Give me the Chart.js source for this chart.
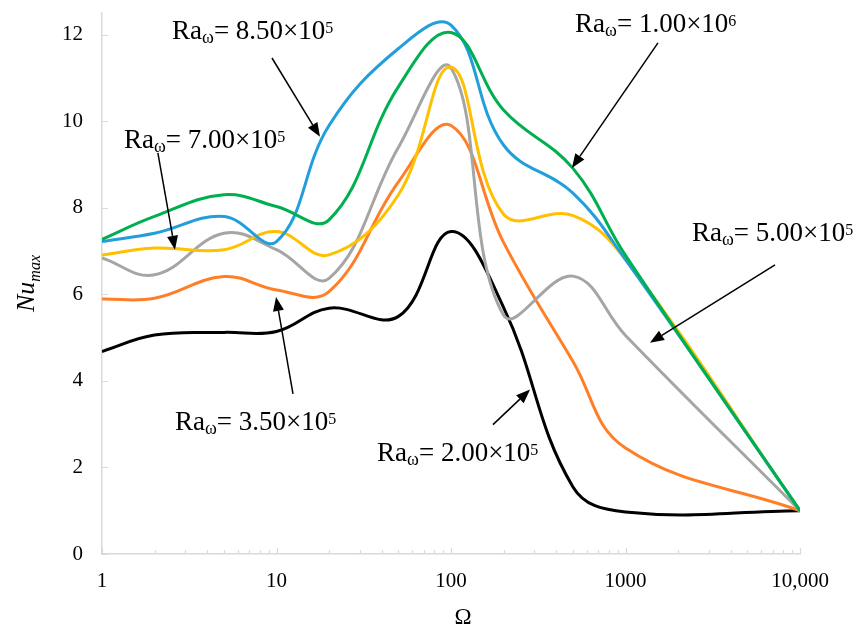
<!DOCTYPE html>
<html>
<head>
<meta charset="utf-8">
<script src="https://cdn.jsdelivr.net/npm/chart.js@4/dist/chart.umd.min.js"></script>
<style>
  html, body { margin: 0; padding: 0; background: #fff; }
  canvas { display: block; }
</style>
</head>
<body>
<canvas id="nuChart" width="857" height="630"></canvas>
<script>
// ── DATA ──────────────────────────────────────────────────────────────────────
const omega     = [1, 2, 5, 10, 20, 50, 100, 200, 500, 1000, 10000];
const nuRa200k  = [4.68, 5.06, 5.12, 5.14, 5.68, 5.49, 7.45, 5.70, 1.55, 0.97, 1.00];
const nuRa350k  = [5.89, 5.91, 6.41, 6.10, 6.06, 8.60, 9.90, 7.20, 4.45, 2.45, 1.00];
const nuRa500k  = [6.84, 6.45, 7.41, 7.03, 6.37, 9.40, 11.23, 5.52, 6.42, 5.05, 1.00];
const nuRa700k  = [6.91, 7.07, 7.03, 7.45, 6.91, 8.30, 11.25, 7.85, 7.82, 6.80, 1.00];
const nuRa850k  = [7.22, 7.41, 7.80, 7.22, 9.90, 11.68, 12.22, 9.45, 8.34, 6.80, 1.00];
const nuRa1000k = [7.27, 7.80, 8.30, 8.03, 7.72, 10.80, 12.05, 10.26, 8.91, 6.90, 1.00];

const xTickValues = [1, 10, 100, 1000, 10000];
const xTickLabels = ['1', '10', '100', '1000', '10,000'];
const yTickValues = [0, 2, 4, 6, 8, 10, 12];

// series styling (drawn in this order, last one on top)
const series = [
  { mant: '2.00', exp: '5', data: nuRa200k,  color: '#000000' },
  { mant: '3.50', exp: '5', data: nuRa350k,  color: '#FF7F27' },
  { mant: '5.00', exp: '5', data: nuRa500k,  color: '#A5A5A5' },
  { mant: '7.00', exp: '5', data: nuRa700k,  color: '#FFC000' },
  { mant: '8.50', exp: '5', data: nuRa850k,  color: '#229FDA' },
  { mant: '1.00', exp: '6', data: nuRa1000k, color: '#00B050' },
];

// callouts, placed in data units (Ω, Nu)
const notes = [
  { mant: '8.50', exp: '5', at: [2.52, 11.9],  from: [9.42, 11.46], to: [17.75, 9.64] },
  { mant: '7.00', exp: '5', at: [1.337, 9.39], from: [2.09, 9.27],  to: [2.62, 7.03] },
  { mant: '1.00', exp: '6', at: [514, 12.07],  from: [1535, 11.81], to: [493, 8.92] },
  { mant: '5.00', exp: '5', at: [2405, 7.24],  from: [7194, 6.68],  to: [1381, 4.88] },
  { mant: '3.50', exp: '5', at: [2.62, 2.86],  from: [12.43, 3.70], to: [9.94, 5.94] },
  { mant: '2.00', exp: '5', at: [37.7, 2.14],  from: [174, 2.99],   to: [284, 3.80] },
];

const SERIF   = '"Liberation Serif", "Times New Roman", serif';
const AXIS_C  = '#D9D9D9';

// ── PLUGINS ───────────────────────────────────────────────────────────────────
const innerTicks = {
  id: 'innerTicks',
  beforeDatasetsDraw(chart) {
    const { ctx, scales: { x, y } } = chart;
    ctx.save();
    ctx.strokeStyle = AXIS_C;
    ctx.lineWidth = 1.2;
    ctx.beginPath();
    xTickValues.forEach(d => {
      const px = Math.round(x.getPixelForValue(d)) + 0.5;
      ctx.moveTo(px, y.bottom); ctx.lineTo(px, y.bottom - 6);
      if (d < 10000) {
        for (let m = 2; m <= 9; m++) {
          const pm = Math.round(x.getPixelForValue(d * m)) + 0.5;
          ctx.moveTo(pm, y.bottom); ctx.lineTo(pm, y.bottom - 4);
        }
      }
    });
    yTickValues.forEach(v => {
      const py = Math.round(y.getPixelForValue(v)) + 0.5;
      ctx.moveTo(x.left, py); ctx.lineTo(x.left + 6, py);
    });
    ctx.stroke();
    ctx.restore();
  }
};

function drawRa(ctx, px, py, mant, exp) {
  let cx = px;
  const put = (txt, size, dy) => {
    ctx.font = size + 'px ' + SERIF;
    ctx.fillText(txt, cx, py + dy);
    cx += ctx.measureText(txt).width;
  };
  put('Ra', 27, 0);
  put('\u03C9', 18, 4);
  put('= ' + mant + '\u00D710', 27, 0);
  put(exp, 16, -6);
}

const callouts = {
  id: 'callouts',
  afterDraw(chart) {
    const { ctx, scales: { x, y } } = chart;
    ctx.save();
    ctx.fillStyle = '#000';
    ctx.strokeStyle = '#000';
    ctx.textAlign = 'left';
    ctx.textBaseline = 'alphabetic';
    notes.forEach(n => {
      drawRa(ctx, x.getPixelForValue(n.at[0]), y.getPixelForValue(n.at[1]), n.mant, n.exp);
      const x0 = x.getPixelForValue(n.from[0]), y0 = y.getPixelForValue(n.from[1]);
      const x1 = x.getPixelForValue(n.to[0]),   y1 = y.getPixelForValue(n.to[1]);
      const ang = Math.atan2(y1 - y0, x1 - x0);
      const hl = 14, hw = 5.5;
      const bx = x1 - hl * Math.cos(ang), by = y1 - hl * Math.sin(ang);
      ctx.lineWidth = 1.5;
      ctx.beginPath(); ctx.moveTo(x0, y0); ctx.lineTo(bx, by); ctx.stroke();
      ctx.beginPath();
      ctx.moveTo(x1, y1);
      ctx.lineTo(bx + hw * Math.sin(ang), by - hw * Math.cos(ang));
      ctx.lineTo(bx - hw * Math.sin(ang), by + hw * Math.cos(ang));
      ctx.closePath(); ctx.fill();
    });

    // x axis title, a little right of centre as in the original
    ctx.font = '23px ' + SERIF;
    ctx.textAlign = 'center';
    ctx.textBaseline = 'middle';
    ctx.fillText('\u03A9', (x.left + x.right) / 2 + 12, 618);

    // y axis title  Nu_max
    const cy = (y.top + y.bottom) / 2;
    ctx.textAlign = 'left';
    ctx.textBaseline = 'alphabetic';
    ctx.translate(34, cy);
    ctx.rotate(-Math.PI / 2);
    ctx.font = 'italic 26px ' + SERIF;
    const wNu = ctx.measureText('Nu').width;
    ctx.font = 'italic 16px ' + SERIF;
    const wMax = ctx.measureText('max').width;
    const sx = -(wNu + wMax) / 2;
    ctx.font = 'italic 26px ' + SERIF;
    ctx.fillText('Nu', sx, 0);
    ctx.font = 'italic 16px ' + SERIF;
    ctx.fillText('max', sx + wNu, 6);
    ctx.restore();
  }
};

// ── CHART ─────────────────────────────────────────────────────────────────────
const datasets = series.map((s, i) => ({
  label: 'Ra\u03C9= ' + s.mant + '\u00D710' + s.exp,
  data: omega.map((o, k) => ({ x: o, y: s.data[k] })),
  borderColor: s.color,
  backgroundColor: s.color,
  borderWidth: 3,
  pointRadius: 0,
  tension: 0.4,
  fill: false,
  order: series.length - i,
}));

new Chart(document.getElementById('nuChart'), {
  type: 'line',
  data: { datasets },
  options: {
    responsive: false,
    animation: false,
    devicePixelRatio: 1,
    layout: { padding: { top: 13, right: 57, left: 0, bottom: 0 } },
    plugins: { legend: { display: false }, tooltip: { enabled: false } },
    scales: {
      x: {
        type: 'logarithmic',
        position: 'bottom',
        min: 1, max: 10000,
        grid: { display: false, drawTicks: false },
        border: { display: true, color: AXIS_C, width: 1.5 },
        afterBuildTicks: s => { s.ticks = xTickValues.map(v => ({ value: v })); },
        afterFit: s => { s.height = 76; s.paddingLeft = 0; s.paddingRight = 0; },
        ticks: {
          autoSkip: false, maxRotation: 0, padding: 15,
          color: '#000', font: { family: SERIF, size: 21 },
          callback: v => xTickLabels[xTickValues.indexOf(v)] ?? ''
        }
      },
      y: {
        type: 'linear',
        min: 0, max: 12.5,
        grid: { display: false, drawTicks: false },
        border: { display: true, color: AXIS_C, width: 1.5 },
        afterBuildTicks: s => { s.ticks = yTickValues.map(v => ({ value: v })); },
        afterFit: s => { s.width = 102; s.paddingTop = 0; s.paddingBottom = 0; },
        ticks: {
          padding: 19, color: '#000', font: { family: SERIF, size: 21 }
        }
      }
    }
  },
  plugins: [innerTicks, callouts]
});
</script>
</body>
</html>
